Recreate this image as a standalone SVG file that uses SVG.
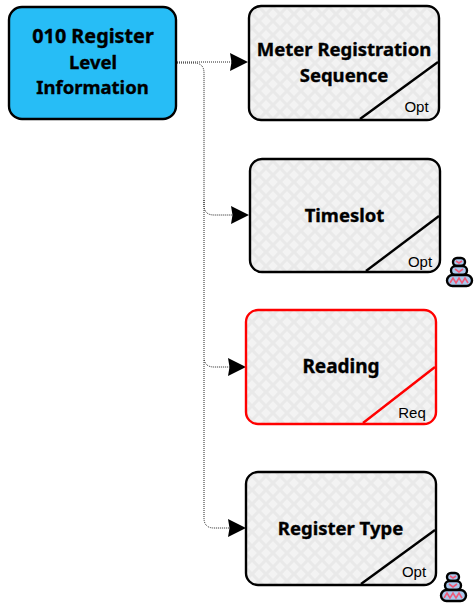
<svg xmlns="http://www.w3.org/2000/svg" width="475" height="604" viewBox="0 0 475 604">
<style>
.t{font-family:"Noto Sans","Open Sans","DejaVu Sans",sans-serif;font-weight:700;font-size:18.500px;fill:#000;stroke:#000;stroke-width:.35;text-anchor:middle}
.s{font-family:"Liberation Sans",Arial,sans-serif;font-size:15px;fill:#000;text-anchor:middle}
.b{fill:url(#hatch);stroke:#000;stroke-width:2.4}
.d{fill:none;stroke:#000;stroke-width:2.4}
.r{stroke:#f00}
.c{fill:none;stroke:#222;stroke-width:1;stroke-dasharray:1 1}
.h1{fill:#a9c9ee;stroke:#000;stroke-width:2.4}
.h2{fill:none;stroke:#ee5a78;stroke-width:1.6}
</style>
<defs>
<pattern id="hatch" width="14" height="14" patternUnits="userSpaceOnUse">
<rect width="14" height="14" fill="#f3f3f3"/>
<path d="M0 0L14 14M14 0L0 14" stroke="#e9e9e9" stroke-width="3"/>
</pattern>
<marker id="arr" viewBox="0 0 18 18" refX="18" refY="9" markerWidth="18" markerHeight="18" markerUnits="userSpaceOnUse" orient="auto">
<path d="M0 0L18 9L0 18L1.500 9Z" fill="#000"/>
</marker>
<g id="stack">
<rect x="7" y="1" width="12" height="8" rx="4" class="h1"/>
<rect x="5" y="9" width="16" height="9" rx="4.500" class="h1"/>
<rect x="1" y="18" width="25" height="11" rx="5.500" class="h1"/>
<path class="h2" d="M10 4l3 2 3-2M9 12l4 3 4-3M4 26l3-5 3 5 3-5 3 5 3-5 3 5"/>
</g>
</defs>
<g id="connectors">
<path class="c" d="M177 62H232" />
<path d="M230 62H248" fill="none" marker-end="url(#arr)"/>
<path class="c" d="M177 63H194Q204 63 204 73V205Q204 215 214 215H234"/>
<path d="M231 215H249" fill="none" marker-end="url(#arr)"/>
<path class="c" d="M204 200V357Q204 367 214 367H230"/>
<path d="M228 367H246" fill="none" marker-end="url(#arr)"/>
<path class="c" d="M204 360V518Q204 528 214 528H230"/>
<path d="M228 528H246" fill="none" marker-end="url(#arr)"/>
</g>
<g id="node-010">
<rect x="9" y="7" width="167" height="112" rx="13" fill="#27bdf6" stroke="#000" stroke-width="2.4"/>
<text class="t" x="93" y="43" style="font-size:19.800px">010 Register</text>
<text class="t" x="93" y="69">Level</text>
<text class="t" x="92.500" y="94">Information</text>
</g>
<g id="node-meter">
<rect class="b" x="249" y="6" width="190" height="114" rx="12"/>
<path class="d" d="M360 119L438 62"/>
<text class="t" x="344" y="56">Meter Registration</text>
<text class="t" x="344" y="82">Sequence</text>
<text class="s" x="416.500" y="112">Opt</text>
</g>
<g id="node-timeslot">
<rect class="b" x="250" y="159" width="190" height="113" rx="12"/>
<path class="d" d="M366 271L439 216"/>
<text class="t" x="344.500" y="222">Timeslot</text>
<text class="s" x="420" y="267">Opt</text>
<use href="#stack" x="446" y="257"/>
</g>
<g id="node-reading">
<rect class="b r" x="246" y="310" width="190" height="114" rx="12"/>
<path class="d r" d="M363 423L435 367"/>
<text class="t" x="341" y="373" style="font-size:19px">Reading</text>
<text class="s" x="412" y="418">Req</text>
</g>
<g id="node-register-type">
<rect class="b" x="246" y="472" width="190" height="113" rx="12"/>
<path class="d" d="M361 584L435 530"/>
<text class="t" x="340.500" y="535">Register Type</text>
<text class="s" x="414" y="577">Opt</text>
<use href="#stack" x="440" y="572"/>
</g>
</svg>
